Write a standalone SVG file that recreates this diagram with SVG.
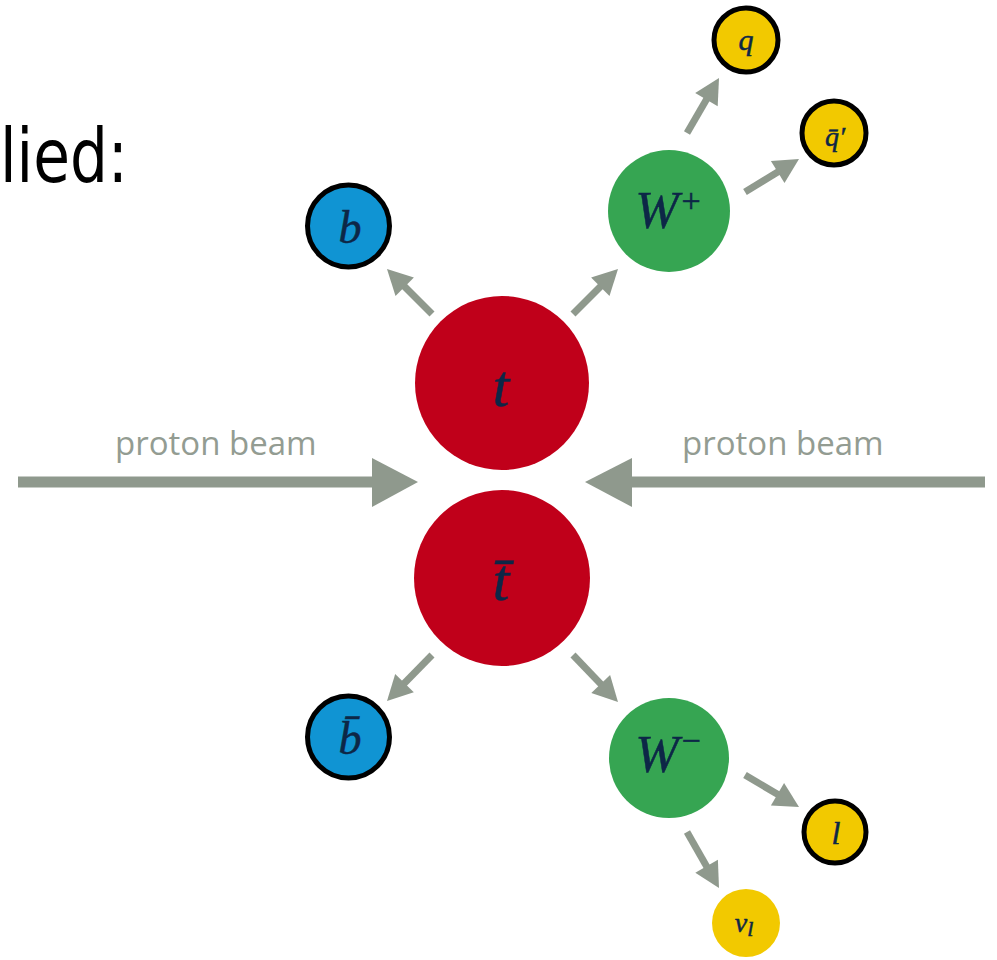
<svg xmlns="http://www.w3.org/2000/svg" width="997" height="960" viewBox="0 0 997 960">
<style>
.arr{stroke:#8F998D;stroke-width:7;fill:none}
.beam{stroke:#8F998D;stroke-width:11;fill:none}
.head{fill:#8F998D}
.lbl{font-family:"Liberation Serif",serif;font-style:italic;fill:#0D2747;stroke:#0D2747;stroke-width:0.5;text-anchor:middle}
.beamtxt{font-family:"Open Sans",sans-serif;font-size:33px;fill:#939C92}
.top{fill:#C0001A}
.bq{fill:#1094D3;stroke:#000;stroke-width:5}
.w{fill:#36A552}
.y{fill:#F2C900;stroke:#000;stroke-width:5}
.yn{fill:#F2C900}
</style>
<rect width="997" height="960" fill="#fff"/>
<text x="0" y="182" font-family="DejaVu Sans, sans-serif" font-size="74" fill="#000" textLength="128" lengthAdjust="spacingAndGlyphs">lied:</text>
<g id="connectors">
<line class="beam" x1="18" y1="482" x2="374" y2="482"/>
<polygon class="head" points="372,458 418,482 372,507"/>
<line class="beam" x1="985" y1="482" x2="630" y2="482"/>
<polygon class="head" points="632,458 585,482 632,507"/>
<line class="arr" x1="432" y1="314" x2="402" y2="284"/>
<polygon class="head" points="387,269 413.9,277.5 395.5,295.9"/>
<line class="arr" x1="573" y1="314" x2="603" y2="284"/>
<polygon class="head" points="618,269 609.5,295.9 591.1,277.5"/>
<line class="arr" x1="687" y1="133" x2="707.9" y2="97"/>
<polygon class="head" points="719,78 717.7,106.2 695.2,93.1"/>
<line class="arr" x1="745" y1="192" x2="780.2" y2="170.5"/>
<polygon class="head" points="799,159 784.5,183.1 770.9,160.9"/>
<line class="arr" x1="432" y1="655" x2="402.4" y2="685.3"/>
<polygon class="head" points="387,701 395.2,674 413.8,692.2"/>
<line class="arr" x1="573" y1="655" x2="602.8" y2="686.1"/>
<polygon class="head" points="618,702 591.3,693 610.1,675"/>
<line class="arr" x1="745" y1="775" x2="780.1" y2="795.8"/>
<polygon class="head" points="799,807 770.9,805.4 784.1,783.1"/>
<line class="arr" x1="687" y1="832" x2="708.1" y2="868.9"/>
<polygon class="head" points="719,888 695.3,872.8 717.9,859.8"/>
<text class="beamtxt" x="115" y="455">proton beam</text>
<text class="beamtxt" x="682" y="455">proton beam</text>
</g>
<g id="t"><circle class="top" cx="502" cy="383" r="87"/><text class="lbl" x="501" y="406" font-size="60">t</text></g>
<g id="tbar"><circle class="top" cx="502" cy="578" r="88"/><text class="lbl" x="501" y="600" font-size="60">t̄</text></g>
<g id="b"><circle class="bq" cx="348.5" cy="226" r="41"/><text class="lbl" x="350" y="243" font-size="46">b</text></g>
<g id="bbar"><circle class="bq" cx="348.5" cy="737" r="41"/><text class="lbl" x="350" y="754" font-size="46">b̄</text></g>
<g id="Wplus"><circle class="w" cx="669" cy="211" r="61"/><text class="lbl" x="668" y="228" font-size="52">W<tspan font-size="34" dx="3" dy="-16" font-style="normal">+</tspan></text></g>
<g id="Wminus"><circle class="w" cx="669" cy="758" r="60"/><text class="lbl" x="668" y="772" font-size="52">W<tspan font-size="34" dx="3" dy="-20" font-style="normal">−</tspan></text></g>
<g id="q"><circle class="y" cx="746" cy="40" r="32"/><text class="lbl" x="746" y="50" font-size="30">q</text></g>
<g id="qbarprime"><circle class="y" cx="834" cy="133" r="32"/><text class="lbl" x="835" y="146" font-size="28">q̄′</text></g>
<g id="l"><circle class="y" cx="835" cy="832" r="31"/><text class="lbl" x="836" y="844" font-size="32">l</text></g>
<g id="nul"><circle class="yn" cx="746" cy="923" r="34"/><text class="lbl" x="744" y="932" font-size="28">ν<tspan font-size="22" dy="4">l</tspan></text></g>
</svg>
